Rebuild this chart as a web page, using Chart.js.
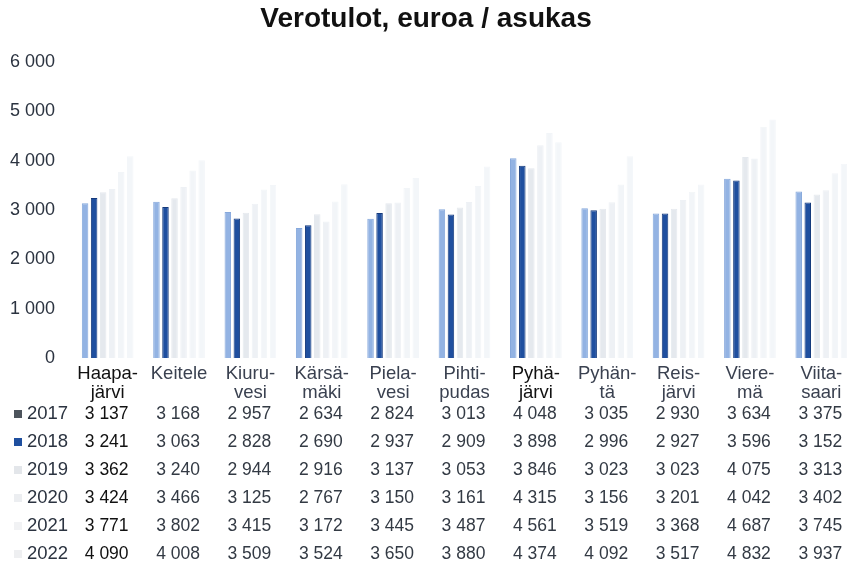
<!DOCTYPE html>
<html>
<head>
<meta charset="utf-8">
<script src="https://cdn.jsdelivr.net/npm/chart.js@4"></script>
<style>
  html, body { margin: 0; padding: 0; background: #fff; overflow: hidden; width: 849px; height: 564px; }
  #wrap { width: 857px; height: 564px; }
</style>
</head>
<body>
<div id="wrap"><canvas id="chart" width="857" height="564"></canvas></div>
<script>
// kunnat (kaksirivinen nimi kuten kuvassa)
const municipalities = [
  ['Haapa-', 'järvi'], ['Keitele'], ['Kiuru-', 'vesi'], ['Kärsä-', 'mäki'],
  ['Piela-', 'vesi'], ['Pihti-', 'pudas'], ['Pyhä-', 'järvi'], ['Pyhän-', 'tä'],
  ['Reis-', 'järvi'], ['Viere-', 'mä'], ['Viita-', 'saari']
];
const years = ['2017', '2018', '2019', '2020', '2021', '2022'];

const tax2017 = [3137, 3168, 2957, 2634, 2824, 3013, 4048, 3035, 2930, 3634, 3375];
const tax2018 = [3241, 3063, 2828, 2690, 2937, 2909, 3898, 2996, 2927, 3596, 3152];
const tax2019 = [3362, 3240, 2944, 2916, 3137, 3053, 3846, 3023, 3023, 4075, 3313];
const tax2020 = [3424, 3466, 3125, 2767, 3150, 3161, 4315, 3156, 3201, 4042, 3402];
const tax2021 = [3771, 3802, 3415, 3172, 3445, 3487, 4561, 3519, 3368, 4687, 3745];
const tax2022 = [4090, 4008, 3509, 3524, 3650, 3880, 4374, 4092, 3517, 4832, 3937];

const yTicks = [0, 1000, 2000, 3000, 4000, 5000, 6000];

const seriesValues = [tax2017, tax2018, tax2019, tax2020, tax2021, tax2022];
const barColors = ['#93b3e3', '#1f4f9f', '#e5e9ee', '#eef1f5', '#f2f5f8', '#f3f6f9'];
const borderColors = ['#86a8dc', '#153a7c', '#e5e9ee', '#eef1f5', '#f2f5f8', '#f3f6f9'];
const legendColors = ['#4d545c', '#1f4f9f', '#e3e6ea', '#eceef1', '#f1f2f4', '#eeeff1'];

const fmt = v => String(v).replace(/\B(?=(\d{3})+(?!\d))/g, ' ');
const FONT = 'Liberation Sans, Arial, sans-serif';

const tablePlugin = {
  id: 'tablePlugin',
  afterDraw(chart) {
    const ctx = chart.ctx;
    const x = chart.scales.x;
    ctx.save();
    // otsikko
    ctx.fillStyle = '#111';
    ctx.font = 'bold 28px ' + FONT;
    ctx.textAlign = 'center';
    ctx.textBaseline = 'middle';
    ctx.fillText('Verotulot, euroa / asukas', 426, 19);

    // taulukko
    years.forEach((yr, r) => {
      const yy = 414 + r * 28;
      ctx.fillStyle = legendColors[r];
      ctx.fillRect(14, yy - 4, 8, 8);
      ctx.font = '18.5px ' + FONT;
      ctx.fillStyle = '#2b3340';
      ctx.textAlign = 'left';
      ctx.fillText(yr, 27, yy);
      ctx.textAlign = 'center';
      ctx.font = '17.5px ' + FONT;
      seriesValues[r].forEach((v, i) => {
        ctx.fillStyle = i === 0 ? '#111' : '#333a44';
        ctx.fillText(fmt(v), x.getPixelForValue(i) - 1, yy);
      });
    });
    ctx.restore();
  }
};

new Chart(document.getElementById('chart'), {
  type: 'bar',
  data: {
    labels: municipalities,
    datasets: years.map((yr, k) => ({
      label: yr,
      data: seriesValues[k],
      backgroundColor: barColors[k],
      borderColor: borderColors[k],
      borderWidth: 1,
      categoryPercentage: 0.76,
      barPercentage: 0.72
    }))
  },
  options: {
    responsive: false,
    animation: false,
    layout: { padding: { top: 62, left: 0, right: 0, bottom: 0 } },
    plugins: {
      legend: { display: false },
      tooltip: { enabled: false }
    },
    scales: {
      x: {
        grid: { display: false, drawTicks: false },
        border: { display: false },
        ticks: {
          padding: 7,
          maxRotation: 0,
          autoSkip: false,
          font: { family: FONT, size: 18.5, lineHeight: 1.0 },
          color: ctx => (ctx.index === 0 || ctx.index === 6) ? '#111' : '#3a4150'
        },
        afterFit: s => { s.height = 206; }
      },
      y: {
        min: 0,
        max: 6000,
        afterBuildTicks: s => { s.ticks = yTicks.map(v => ({ value: v })); },
        grid: { display: false, drawTicks: false },
        border: { display: false },
        ticks: {
          padding: 17,
          font: { family: FONT, size: 18 },
          color: '#2b3340',
          callback: v => fmt(v)
        },
        afterFit: s => { s.width = 72; }
      }
    }
  },
  plugins: [tablePlugin]
});
</script>
</body>
</html>
